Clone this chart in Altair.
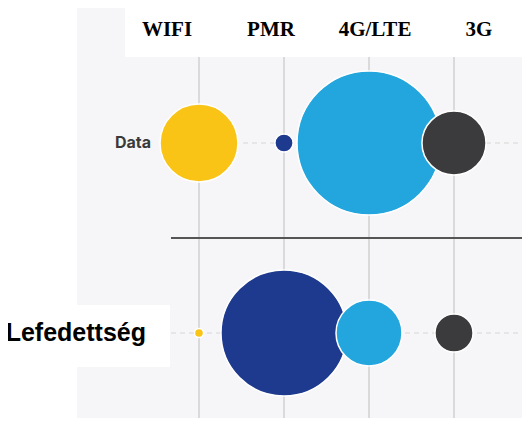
import altair as alt
import pandas as pd

categories = ["WIFI", "PMR", "4G/LTE", "3G"]
rows = ["Data", "Lefedettség"]
data_values = [29.3, 1.6, 100.0, 19.8]
coverage_values = [0.4, 76.6, 21.0, 7.0]
colors = ["#F9C416", "#1E3A8F", "#23A6DD", "#3B3B3D"]

records = []
for c, v in zip(categories, data_values):
    records.append({"cat": c, "row": "Data", "value": v})
for c, v in zip(categories, coverage_values):
    records.append({"cat": c, "row": "Lefedettség", "value": v})
df = pd.DataFrame(records)
cat_df = pd.DataFrame({"cat": categories})
row_df = pd.DataFrame({"row": rows})
dummy = pd.DataFrame({"a": [0]})

W, H = 445, 410
xs = alt.Scale(type="point", domain=categories, range=[122, 377], padding=0)
xl = alt.Scale(type="point", domain=categories, range=[90, 402], padding=0)
ys = alt.Scale(type="point", domain=rows, range=[135, 325], padding=0)

grid = alt.Chart(cat_df).mark_rule(color="#cbcbcb", strokeWidth=1.3).encode(
    x=alt.X("cat:N", scale=xs, axis=None), y=alt.value(0), y2=alt.value(H)
)
dashed = alt.Chart(row_df).mark_rule(color="#d6d6d6", strokeDash=[5, 4], strokeWidth=1).encode(
    y=alt.Y("row:N", scale=ys, axis=None), x=alt.value(85), x2=alt.value(W)
)
separator = alt.Chart(dummy).mark_rule(color="#555555", strokeWidth=2).encode(
    x=alt.value(94), x2=alt.value(W), y=alt.value(230)
)
top_box = alt.Chart(dummy).mark_rect(color="white").encode(
    x=alt.value(48), x2=alt.value(W), y=alt.value(0), y2=alt.value(49)
)
label_box = alt.Chart(dummy).mark_rect(color="white").encode(
    x=alt.value(0), x2=alt.value(93), y=alt.value(297), y2=alt.value(359)
)
bubbles = alt.Chart(df).mark_circle(opacity=1, stroke="white", strokeWidth=1.5).encode(
    x=alt.X("cat:N", scale=xs, axis=None),
    y=alt.Y("row:N", scale=ys, axis=None),
    size=alt.Size("value:Q", scale=alt.Scale(domain=[0, 100], range=[0, 20736]), legend=None),
    color=alt.Color("cat:N", scale=alt.Scale(domain=categories, range=colors), legend=None),
)
data_label = alt.Chart(row_df).transform_filter(alt.datum.row == "Data").mark_text(
    align="right", baseline="middle", font="Inter", fontWeight="bold", fontSize=16, color="#3a3a3a"
).encode(y=alt.Y("row:N", scale=ys, axis=None), x=alt.value(74), text="row:N")
cov_label = alt.Chart(row_df).transform_filter(alt.datum.row == "Lefedettség").mark_text(
    align="right", baseline="middle", font="Liberation Sans", fontWeight="bold", fontSize=25, color="#000000"
).encode(y=alt.Y("row:N", scale=ys, axis=None), x=alt.value(69), text="row:N")
cat_labels = alt.Chart(cat_df).mark_text(
    align="center", baseline="alphabetic", font="Liberation Serif", fontWeight="bold", fontSize=21, color="#000000"
).encode(x=alt.X("cat:N", scale=xl, axis=None), y=alt.value(28), text="cat:N")

chart = alt.layer(
    grid, dashed, separator, top_box, label_box, bubbles, data_label, cov_label, cat_labels
).resolve_scale(x="independent").properties(
    width=W, height=H,
    padding={"left": 69, "top": 0, "right": 0, "bottom": 0},
    autosize=alt.AutoSizeParams(type="none"),
    background="white",
).configure_view(fill="#F6F6F8", strokeWidth=0)

chart.save("out.html", embed_options={"renderer": "svg", "actions": False})
